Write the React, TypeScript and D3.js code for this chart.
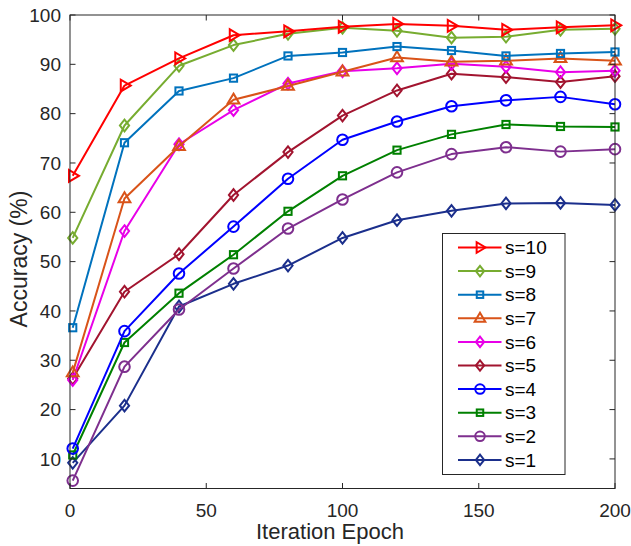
import React from "react";
import * as d3 from "d3";

const epochs = [1, 20, 40, 60, 80, 100, 120, 140, 160, 180, 200];
const s10 = [67.4, 85.7, 91.2, 95.9, 96.7, 97.6, 98.2, 97.8, 97.0, 97.5, 97.9];
const s9 = [54.8, 77.6, 89.7, 93.9, 96.2, 97.4, 96.8, 95.4, 95.6, 97.0, 97.2];
const s8 = [36.6, 74.1, 84.6, 87.2, 91.7, 92.4, 93.6, 92.8, 91.7, 92.2, 92.5];
const s7 = [27.5, 62.8, 73.4, 82.8, 85.6, 88.5, 91.4, 90.5, 90.7, 91.2, 90.7];
const s6 = [26.0, 56.2, 73.8, 80.7, 86.1, 88.6, 89.2, 90.1, 89.5, 88.4, 88.7];
const s5 = [26.3, 43.9, 51.5, 63.5, 72.2, 79.6, 84.7, 88.1, 87.4, 86.4, 87.6];
const s4 = [12.1, 35.9, 47.6, 57.1, 66.8, 74.7, 78.4, 81.5, 82.7, 83.4, 81.9];
const s3 = [10.8, 33.6, 43.6, 51.4, 60.2, 67.4, 72.6, 75.8, 77.8, 77.4, 77.3];
const s2 = [5.6, 28.7, 40.3, 48.6, 56.7, 62.6, 68.1, 71.8, 73.2, 72.3, 72.8];
const s1 = [9.2, 20.8, 40.9, 45.5, 49.2, 54.8, 58.4, 60.3, 61.8, 61.9, 61.5];

const seriesNames = ["s=10", "s=9", "s=8", "s=7", "s=6", "s=5", "s=4", "s=3", "s=2", "s=1"];
const seriesValues = [s10, s9, s8, s7, s6, s5, s4, s3, s2, s1];
const seriesColors = ["#FF0000", "#77AC30", "#0072BD", "#D95319", "#E800E8", "#A2142F", "#0000FF", "#008000", "#7E2F8E", "#1B2F8C"];
const seriesMarkers = ["triR", "diamond", "square", "triU", "diamond", "diamond", "circle", "square", "circle", "diamond"];

const xTicks = [0, 50, 100, 150, 200];
const yTicks = [10, 20, 30, 40, 50, 60, 70, 80, 90, 100];

const W = 631, H = 546;
const L = 70, R = 615, T = 15, B = 488.5;
const AX = "#262626";
const FONT = "'Liberation Sans', Arial, Helvetica, sans-serif";

function Marker({ type, x, y, color, s = 1 }: { type: string; x: number; y: number; color: string; s?: number }) {
  const common = { fill: "none", stroke: color, strokeWidth: 2 };
  if (type === "circle") return <circle cx={x} cy={y} r={5.3 * s} {...common} />;
  if (type === "square") return <rect x={x - 3.6 * s} y={y - 3.6 * s} width={7.2 * s} height={7.2 * s} {...common} />;
  if (type === "diamond") {
    const w = 4.6 * s, h = 5.8 * s;
    return <path d={`M${x},${y - h}L${x + w},${y}L${x},${y + h}L${x - w},${y}Z`} {...common} />;
  }
  if (type === "triU") {
    const r = 6.2 * s;
    return <path d={`M${x},${y - r}L${x + r * 0.95},${y + r * 0.6}L${x - r * 0.95},${y + r * 0.6}Z`} {...common} />;
  }
  if (type === "triR") {
    const r = 6.2 * s;
    return <path d={`M${x + r},${y}L${x - r * 0.6},${y + r * 0.95}L${x - r * 0.6},${y - r * 0.95}Z`} {...common} />;
  }
  return null;
}

export default function App() {
  const x = d3.scaleLinear().domain([0, 200]).range([L, R]);
  const y = d3.scaleLinear().domain([4, 100]).range([B, T]);
  const line = d3.line<number>().x((_, i) => x(epochs[i])).y((d) => y(d));

  const legX = 442.5, legY = 233.5, legW = 122.5, legH = 241;
  const rowH = 23.6;

  return (
    <svg width={W} height={H} style={{ position: "absolute", left: 0, top: 0, background: "#fff" }} fontFamily={FONT}>
      <rect x={0} y={0} width={W} height={H} fill="#fff" />
      {/* series (draw s=1 first so s=10 on top) */}
      {seriesValues.map((vals, k) => k).reverse().map((k) => (
        <g key={seriesNames[k]}>
          <path d={line(seriesValues[k]) || ""} fill="none" stroke={seriesColors[k]} strokeWidth={2} strokeLinejoin="round" />
          {seriesValues[k].map((v, i) => (
            <Marker key={i} type={seriesMarkers[k]} x={x(epochs[i])} y={y(v)} color={seriesColors[k]} />
          ))}
        </g>
      ))}
      {/* axes box */}
      <rect x={L} y={T} width={R - L} height={B - T} fill="none" stroke={AX} strokeWidth={1} />
      {xTicks.map((t) => (
        <g key={"x" + t}>
          <line x1={x(t)} x2={x(t)} y1={B} y2={B - 5.5} stroke={AX} />
          <line x1={x(t)} x2={x(t)} y1={T} y2={T + 5.5} stroke={AX} />
          <text x={x(t)} y={516.5} textAnchor="middle" fontSize={19} fill={AX}>{t}</text>
        </g>
      ))}
      {yTicks.map((t) => (
        <g key={"y" + t}>
          <line x1={L} x2={L + 5.5} y1={y(t)} y2={y(t)} stroke={AX} />
          <line x1={R} x2={R - 5.5} y1={y(t)} y2={y(t)} stroke={AX} />
          <text x={61} y={y(t)} dy="0.35em" textAnchor="end" fontSize={19} fill={AX}>{t}</text>
        </g>
      ))}
      <text x={330} y={539} textAnchor="middle" fontSize={22} fill={AX}>Iteration Epoch</text>
      <text transform={`translate(27,259) rotate(-90)`} textAnchor="middle" fontSize={23} fill={AX}>Accuracy (%)</text>
      {/* legend */}
      <rect x={legX} y={legY} width={legW} height={legH} fill="#fff" stroke={AX} strokeWidth={1} />
      {seriesNames.map((name, k) => {
        const cy = 247.5 + k * rowH;
        return (
          <g key={"leg" + name}>
            <line x1={458} x2={501.5} y1={cy} y2={cy} stroke={seriesColors[k]} strokeWidth={2} />
            <Marker type={seriesMarkers[k]} x={480} y={cy} color={seriesColors[k]} s={0.9} />
            <text x={505} y={cy} dy="0.35em" fontSize={19} fill="#000">{name}</text>
          </g>
        );
      })}
    </svg>
  );
}
